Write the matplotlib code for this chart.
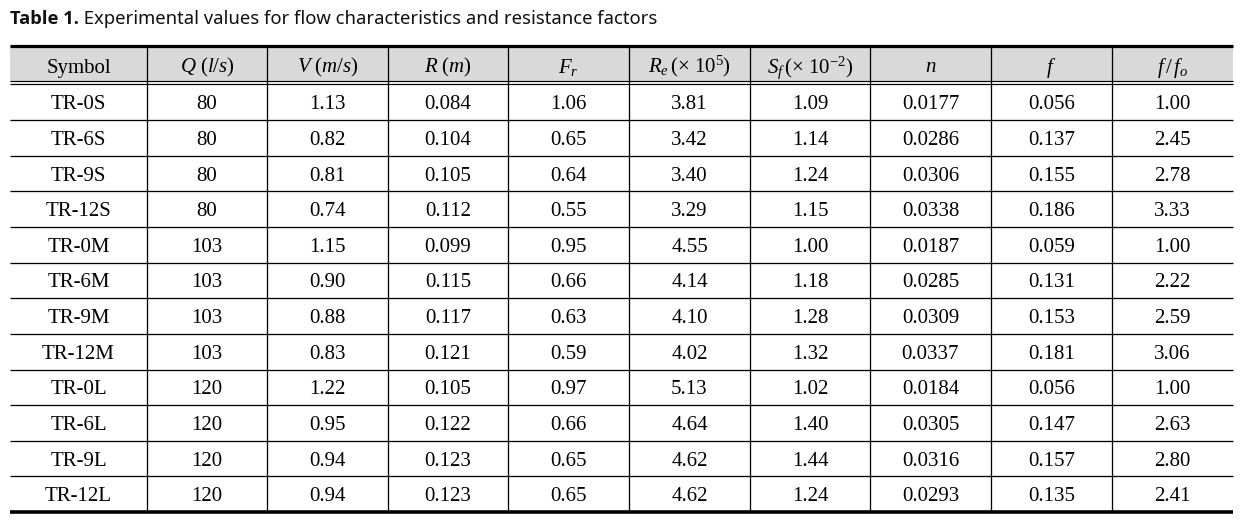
import matplotlib.pyplot as plt
import numpy as np

plt.rcParams['mathtext.fontset'] = 'custom'
plt.rcParams['mathtext.rm'] = 'Liberation Serif'
plt.rcParams['mathtext.it'] = 'Liberation Serif:italic'

title_bold = "Table 1."
title_rest = " Experimental values for flow characteristics and resistance factors"

headers = ["Symbol", r"$Q\ (l/s)$", r"$V\ (m/s)$", r"$R\ (m)$", r"$F_r$",
           r"$R_e\,(\mathrm{\times\ 10^5})$", r"$S_f\,(\mathrm{\times\ 10^{-2}})$",
           r"$n$", r"$f$", r"$f\,/\,f_o$"]

symbols = ["TR-0S", "TR-6S", "TR-9S", "TR-12S", "TR-0M", "TR-6M", "TR-9M",
           "TR-12M", "TR-0L", "TR-6L", "TR-9L", "TR-12L"]
Q = ["80", "80", "80", "80", "103", "103", "103", "103", "120", "120", "120", "120"]
V = ["1.13", "0.82", "0.81", "0.74", "1.15", "0.90", "0.88", "0.83", "1.22", "0.95", "0.94", "0.94"]
R = ["0.084", "0.104", "0.105", "0.112", "0.099", "0.115", "0.117", "0.121", "0.105", "0.122", "0.123", "0.123"]
Fr = ["1.06", "0.65", "0.64", "0.55", "0.95", "0.66", "0.63", "0.59", "0.97", "0.66", "0.65", "0.65"]
Re = ["3.81", "3.42", "3.40", "3.29", "4.55", "4.14", "4.10", "4.02", "5.13", "4.64", "4.62", "4.62"]
Sf = ["1.09", "1.14", "1.24", "1.15", "1.00", "1.18", "1.28", "1.32", "1.02", "1.40", "1.44", "1.24"]
n = ["0.0177", "0.0286", "0.0306", "0.0338", "0.0187", "0.0285", "0.0309", "0.0337", "0.0184", "0.0305", "0.0316", "0.0293"]
f = ["0.056", "0.137", "0.155", "0.186", "0.059", "0.131", "0.153", "0.181", "0.056", "0.147", "0.157", "0.135"]
f_fo = ["1.00", "2.45", "2.78", "3.33", "1.00", "2.22", "2.59", "3.06", "1.00", "2.63", "2.80", "2.41"]

columns = [symbols, Q, V, R, Fr, Re, Sf, n, f, f_fo]

W, H = 1244, 531
fig = plt.figure(figsize=(W / 100, H / 100), dpi=100)
ax = fig.add_axes([0, 0, 1, 1])
ax.set_xlim(0, W)
ax.set_ylim(H, 0)
ax.axis('off')

px = 0.72  # one pixel in points
left, right = 10, 1233
xb = [10, 147, 267, 388, 508, 629, 750, 870, 991, 1112, 1233]
top, head_bot, body_top, bottom = 46, 82, 84.5, 512
nrows = len(symbols)
rh = (bottom - body_top) / nrows
fs = 15

# title
t = ax.text(10, 19, title_bold, fontsize=13.2, fontweight='bold', family='Open Sans',
            va='center', ha='left', color='#111111')
fig.canvas.draw()
bb = t.get_window_extent()
ax.text(bb.x1, 19, title_rest, fontsize=13.3, family='Noto Sans',
        va='center', ha='left', color='#111111')

# header fill
ax.fill_between([left, right], top, head_bot, color='#d9d9d9', lw=0, zorder=0)

# rules
ax.plot([left, right], [top, top], color='black', lw=3.2 * px, solid_capstyle='butt')
ax.plot([left, right], [head_bot - 1, head_bot - 1], color='black', lw=1.2 * px, solid_capstyle='butt')
ax.plot([left, right], [head_bot + 1.5, head_bot + 1.5], color='black', lw=1.2 * px, solid_capstyle='butt')
for k in range(1, nrows):
    y = body_top + k * rh
    ax.plot([left, right], [y, y], color='black', lw=1.3 * px, solid_capstyle='butt')
ax.plot([left, right], [bottom, bottom], color='black', lw=3.6 * px, solid_capstyle='butt')
for x in xb[1:-1]:
    ax.plot([x, x], [top, bottom], color='black', lw=1.3 * px, solid_capstyle='butt')

# header text
for j, h in enumerate(headers):
    cx = (xb[j] + xb[j + 1]) / 2
    ax.text(cx, 72.5, h, fontsize=fs, family='Liberation Serif',
            ha='center', va='baseline')

# body text
for j, col in enumerate(columns):
    cx = (xb[j] + xb[j + 1]) / 2
    for i, v in enumerate(col):
        cy = body_top + (i + 0.5) * rh + 7
        ax.text(cx, cy, v, fontsize=fs, family='Liberation Serif',
                ha='center', va='baseline')

fig.savefig('out.png', dpi=100)
